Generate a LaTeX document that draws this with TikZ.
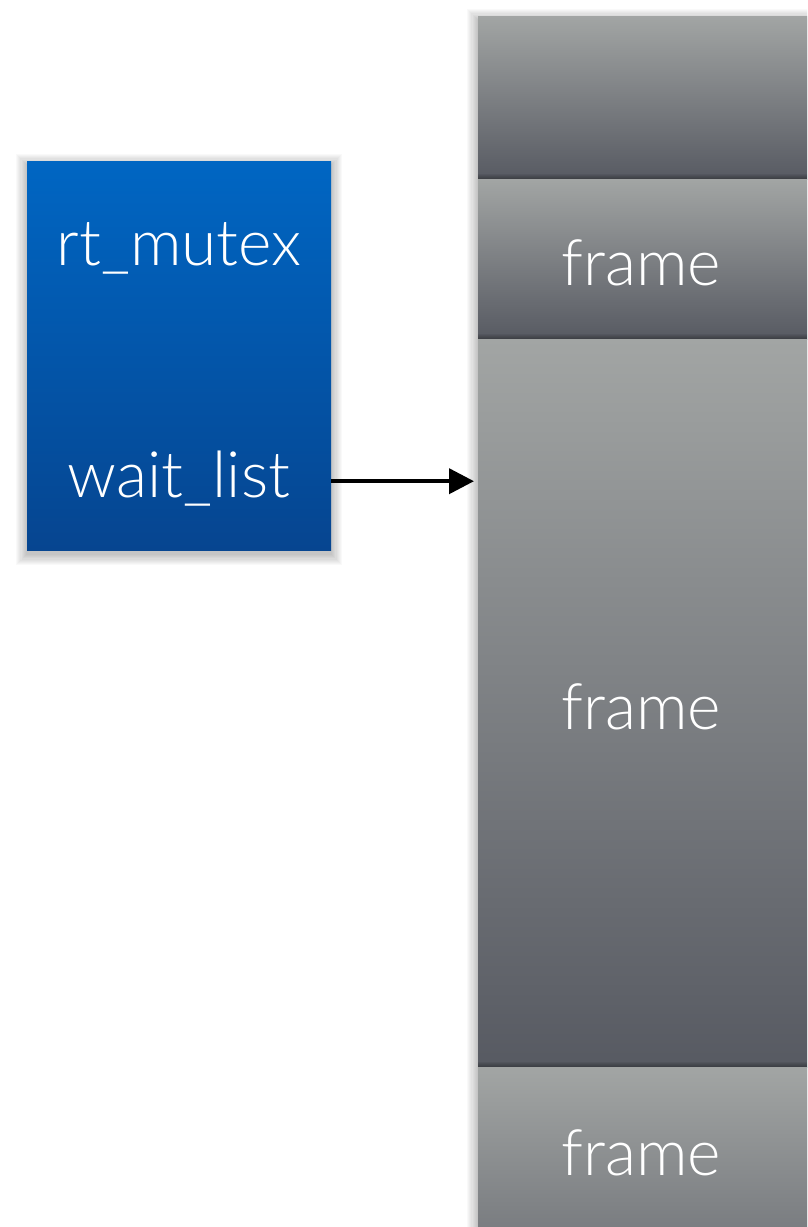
\documentclass[tikz,border=0pt]{standalone}
\usepackage{fontspec}
\setmainfont{Lato}[UprightFont=* Light]
\usetikzlibrary{arrows.meta}
\definecolor{bluetop}{HTML}{0066C3}
\definecolor{bluebot}{HTML}{064590}
\definecolor{graytop}{HTML}{A2A5A4}
\definecolor{graybot}{HTML}{575A62}
\newcommand\mysoftshadow[4]{%
  \foreach \i in {1,...,10}{\fill[black,opacity=0.022] (#1-\i*1.1,#2-\i*1.1+4) rectangle (#3+\i*1.1,#4+\i*1.1+4);}}
\newcommand\myseamshadow[1]{%
  \foreach \i in {1,...,5}{\fill[black,opacity=0.06] (478,#1-\i) rectangle (807,#1);}}
\tikzset{
  mutexbox/.style={rectangle, inner sep=0pt, anchor=north west, top color=bluetop, bottom color=bluebot, draw=none},
  stackbox/.style={rectangle, inner sep=0pt, anchor=north west, minimum width=340pt, top color=graytop, bottom color=graybot, draw=none},
  lbl/.style={text=white, font=\fontsize{64}{64}\selectfont, anchor=base, inner sep=0pt},
  ptr/.style={-{Triangle[length=25pt,width=25pt]}, line width=4pt, black}
}
\begin{document}
\begin{tikzpicture}[x=1pt,y=-1pt]
\useasboundingbox (0,0) rectangle (807,1227);
\clip (0,0) rectangle (807,1227);
\fill[white] (0,0) rectangle (807,1227);
% mutex box
\mysoftshadow{27}{161}{331}{550}
\node[mutexbox, minimum width=304pt, minimum height=389pt] (mutex) at (27,161) {};
\node[lbl] (rt) at (179,265) {rt\_mutex};
\node[lbl] (wl) at (179,497) {wait\_list};
% stack
\mysoftshadow{478}{16}{818}{1240}
\node[stackbox, minimum height=163pt] (f1) at (478,16) {};
\myseamshadow{179}
\node[stackbox, minimum height=160pt] (f2) at (478,179) {};
\node[lbl] (t2) at (641,285) {frame};
\myseamshadow{339}
\node[stackbox, minimum height=728pt] (f3) at (478,339) {};
\node[lbl] (t3) at (641,729) {frame};
\myseamshadow{1067}
\node[stackbox, minimum height=180pt, bottom color=graybot!60!graytop] (f4) at (478,1067) {};
\node[lbl] (t4) at (641,1175) {frame};
% pointer
\coordinate (ptrstart) at ([yshift=-125.5pt]mutex.east);
\draw[ptr, shorten >=4pt] (ptrstart) -- (f3.west |- ptrstart);
\end{tikzpicture}
\end{document}
